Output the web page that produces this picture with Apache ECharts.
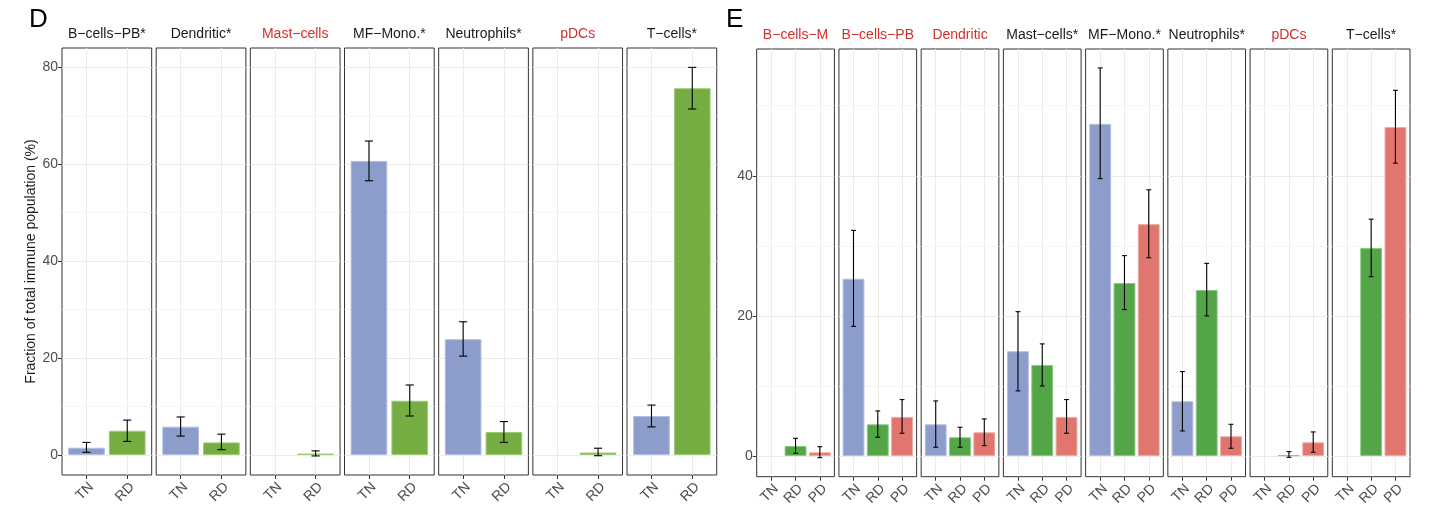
<!DOCTYPE html>
<html><head><meta charset="utf-8">
<script src="https://cdn.jsdelivr.net/npm/echarts@6/dist/echarts.min.js"></script>
<style>html,body{margin:0;padding:0;background:#fff}#c{width:1448px;height:526px}</style>
</head><body><div id="c"></div>
<script>
// ---------- Panel D data ----------
const dCats = ['TN', 'RD'];
const dFacets = ['B−cells−PB*', 'Dendritic*', 'Mast−cells', 'MF−Mono.*', 'Neutrophils*', 'pDCs', 'T−cells*'];
const dTN     = [1.5, 5.85, null, 60.7, 23.9, null, 8.05];
const dTNLow  = [0.55, 3.9, null, 56.6, 20.4, null, 5.8];
const dTNHigh = [2.6, 7.85, null, 64.8, 27.5, null, 10.3];
const dRD     = [5.0, 2.6, 0.3, 11.2, 4.75, 0.5, 75.7];
const dRDLow  = [2.8, 1.1, -0.2, 8.05, 2.6, -0.15, 71.4];
const dRDHigh = [7.2, 4.3, 0.85, 14.45, 6.9, 1.4, 80.0];
const dYTicks = [0, 20, 40, 60, 80];
const dYMinor = [10, 30, 50, 70];

// ---------- Panel E data ----------
const eCats = ['TN', 'RD', 'PD'];
const eFacets = ['B−cells−M', 'B−cells−PB', 'Dendritic', 'Mast−cells*', 'MF−Mono.*', 'Neutrophils*', 'pDCs', 'T−cells*'];
const eTN     = [null, 25.3, 4.52, 14.95, 47.4, 7.81, null, null];
const eTNLow  = [null, 18.5, 1.24, 9.29, 39.6, 3.57, null, null];
const eTNHigh = [null, 32.2, 7.86, 20.6, 55.4, 12.05, null, null];
const eRD     = [1.43, 4.52, 2.67, 13.0, 24.7, 23.7, 0.1, 29.7];
const eRDLow  = [0.38, 2.67, 1.24, 10.0, 20.9, 20.0, -0.19, 25.6];
const eRDHigh = [2.52, 6.43, 4.1, 16.0, 28.6, 27.5, 0.62, 33.8];
const ePD     = [0.52, 5.57, 3.38, 5.57, 33.1, 2.81, 1.95, 46.95];
const ePDLow  = [-0.24, 3.24, 1.48, 3.24, 28.3, 1.1, 0.52, 41.8];
const ePDHigh = [1.33, 8.05, 5.29, 8.05, 38.0, 4.52, 3.43, 52.2];
const eYTicks = [0, 20, 40];
const eYMinor = [10, 30, 50];

// ---------- styling / layout ----------
const FONT = '"Liberation Sans", Arial, Helvetica, sans-serif';
const TEXT_BLACK = '#1a1a1a';
const TEXT_RED = '#d1302b';
const AXIS_TEXT = '#4d4d4d';

const grids = [], xAxes = [], yAxes = [], series = [], graphics = [];

function addPanel(p) {
  const n = p.cats.length;
  const unitPx = p.width / (n - 1 + 1.2);
  p.facets.forEach((name, i) => {
    const g = grids.length;
    const left = p.left + i * p.step;
    grids.push({ left: left, top: p.top, width: p.width, height: p.height, show: true,
      borderColor: '#333', borderWidth: 1, backgroundColor: '#fff' });
    const xs = p.cats.map((_, k) => k);
    xAxes.push({ type: 'value', gridIndex: g, min: -0.6, max: n - 1 + 0.6, position: 'bottom',
      axisLine: { show: false, onZero: false },
      axisTick: { show: true, length: 4, customValues: xs, lineStyle: { color: '#333' } },
      axisLabel: { show: true, customValues: xs, formatter: v => p.cats[Math.round(v)], rotate: 45,
        align: 'right', verticalAlign: 'top',
        fontSize: 14, color: AXIS_TEXT, fontFamily: FONT, margin: 5 },
      splitLine: { show: true, lineStyle: { color: '#ebebeb', width: 1 } } });
    const y = { type: 'value', gridIndex: g, min: p.yMin, max: p.yMax, position: 'left',
      axisLine: { show: false, onZero: false },
      axisTick: { show: i === 0, length: 4, customValues: p.yTicks, lineStyle: { color: '#333' } },
      axisLabel: { show: i === 0, customValues: p.yTicks, fontSize: 14, color: AXIS_TEXT, fontFamily: FONT, margin: 4 },
      splitLine: { show: true, lineStyle: { color: '#ebebeb', width: 1 } } };
    if (i === 0 && p.yName) {
      Object.assign(y, { name: p.yName, nameLocation: 'middle', nameGap: 24, nameRotate: 90,
        nameTextStyle: { fontSize: 14, color: TEXT_BLACK, fontFamily: FONT } });
    }
    yAxes.push(y);

    const barData = [], errData = [];
    p.groups.forEach((grp, k) => {
      const v = grp.mean[i];
      if (v === null || v === undefined) return;
      barData.push({ value: [k, v], itemStyle: { color: grp.color, borderColor: grp.border, borderWidth: 1 } });
      errData.push([k, grp.low[i], grp.high[i]]);
    });
    series.push({ type: 'bar', xAxisIndex: g, yAxisIndex: g, barWidth: unitPx * 0.9, z: 2,
      data: barData, silent: true,
      markLine: { silent: true, symbol: 'none', z: 1, label: { show: false },
        lineStyle: { color: '#f2f2f2', width: 0.8, type: 'solid' }, emphasis: { disabled: true },
        data: p.yMinor.map(v => ({ yAxis: v })) } });
    series.push({ type: 'custom', xAxisIndex: g, yAxisIndex: g, z: 3, silent: true,
      encode: { x: 0, y: [1, 2] }, data: errData,
      renderItem: (params, api) => {
        const x = api.value(0), lo = api.value(1), hi = api.value(2);
        const a = api.coord([x, hi]), b = api.coord([x, lo]);
        const hw = api.size([0.1, 0])[0];
        const st = { stroke: '#000', lineWidth: 1.1 };
        return { type: 'group', children: [
          { type: 'line', shape: { x1: a[0], y1: a[1], x2: b[0], y2: b[1] }, style: st },
          { type: 'line', shape: { x1: a[0] - hw, y1: a[1], x2: a[0] + hw, y2: a[1] }, style: st },
          { type: 'line', shape: { x1: b[0] - hw, y1: b[1], x2: b[0] + hw, y2: b[1] }, style: st }
        ] };
      } });

    graphics.push({ type: 'text', x: left + p.width / 2, y: p.top - 14,
      style: { text: name, fill: name.endsWith('*') ? TEXT_BLACK : TEXT_RED,
        font: '14px ' + FONT, textAlign: 'center', textVerticalAlign: 'middle' } });
  });
  graphics.push({ type: 'text', x: p.letterX, y: 20,
    style: { text: p.letter, fill: '#000', font: '26px ' + FONT, textAlign: 'left', textVerticalAlign: 'middle' } });
}

addPanel({ letter: 'D', letterX: 29, facets: dFacets, cats: dCats,
  groups: [
    { mean: dTN, low: dTNLow, high: dTNHigh, color: '#8c9dcb', border: '#b3bfe0' },
    { mean: dRD, low: dRDLow, high: dRDHigh, color: '#75ad42', border: '#9fcb79' }],
  left: 62, step: 94.17, width: 89.7, top: 48, height: 427,
  yMin: -4.13, yMax: 84.0, yTicks: dYTicks, yMinor: dYMinor,
  yName: 'Fraction of total immune population (%)' });

addPanel({ letter: 'E', letterX: 726, facets: eFacets, cats: eCats,
  groups: [
    { mean: eTN, low: eTNLow, high: eTNHigh, color: '#8c9dcb', border: '#b3bfe0' },
    { mean: eRD, low: eRDLow, high: eRDHigh, color: '#53a547', border: '#8cc884' },
    { mean: ePD, low: ePDLow, high: ePDHigh, color: '#e0766e', border: '#eeaaa4' }],
  left: 756.7, step: 82.23, width: 77.7, top: 49, height: 427.7,
  yMin: -2.96, yMax: 58.1, yTicks: eYTicks, yMinor: eYMinor, yName: null });

const chart = echarts.init(document.getElementById('c'), null, { renderer: 'canvas' });
chart.setOption({ animation: false, backgroundColor: '#fff',
  grid: grids, xAxis: xAxes, yAxis: yAxes, series: series, graphic: graphics });
</script></body></html>
